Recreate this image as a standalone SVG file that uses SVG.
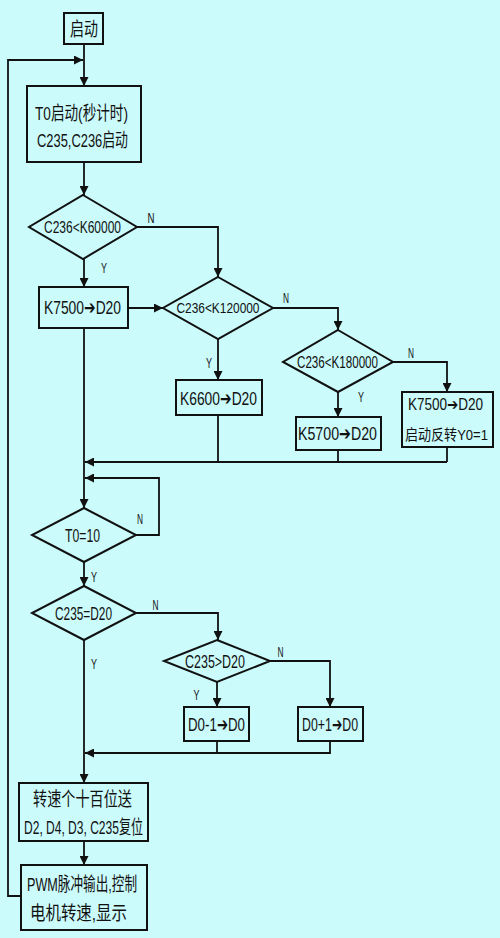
<svg xmlns="http://www.w3.org/2000/svg" width="500" height="938" viewBox="0 0 500 938">
<style>
.bg{fill:#CBFBFB}
.box{fill:#CBFBFB;stroke:#111;stroke-width:2}
.ln{fill:none;stroke:#111;stroke-width:1.8}
.t{font-family:"Liberation Sans","Noto Sans CJK SC",sans-serif;font-size:19px;fill:#111;text-anchor:middle}
.s{font-size:16px}
.x{font-size:14.5px}
.l{font-family:"Liberation Sans",sans-serif;font-size:15px;fill:#111;text-anchor:middle}
</style>
<defs>
<marker id="b" viewBox="0 0 10 10" refX="10" refY="5" markerWidth="10" markerHeight="9" markerUnits="userSpaceOnUse" orient="auto">
<path d="M0,0 L10,5 L0,10 Z" fill="#111"/>
</marker>
</defs>
<rect class="bg" x="0" y="0" width="500" height="938"/>

<g id="connectors">
<path class="ln" d="M84,44 V86" marker-end="url(#b)"/>
<path class="ln" d="M21,896 H8 V60 H83" marker-end="url(#b)"/>
<path class="ln" d="M84,162 V195" marker-end="url(#b)"/>
<path class="ln" d="M137,227 H218 V277" marker-end="url(#b)"/>
<path class="ln" d="M84,259 V287" marker-end="url(#b)"/>
<path class="ln" d="M128,308 H163" marker-end="url(#b)"/>
<path class="ln" d="M273,308 H338 V330" marker-end="url(#b)"/>
<path class="ln" d="M218,339 V380" marker-end="url(#b)"/>
<path class="ln" d="M393,362 H447 V392" marker-end="url(#b)"/>
<path class="ln" d="M338,392 V417" marker-end="url(#b)"/>
<path class="ln" d="M218,415 V462"/>
<path class="ln" d="M338,450 V462"/>
<path class="ln" d="M447,462 V447"/>
<path class="ln" d="M447,462 H85" marker-end="url(#b)"/>
<path class="ln" d="M84,328 V508" marker-end="url(#b)"/>
<path class="ln" d="M136,535 H159 V478 H85" marker-end="url(#b)"/>
<path class="ln" d="M84,562 V586" marker-end="url(#b)"/>
<path class="ln" d="M136,613 H218 V640" marker-end="url(#b)"/>
<path class="ln" d="M217,682 V707" marker-end="url(#b)"/>
<path class="ln" d="M270,661 H330 V707" marker-end="url(#b)"/>
<path class="ln" d="M217,741 V753"/>
<path class="ln" d="M330,741 V753 H85" marker-end="url(#b)"/>
<path class="ln" d="M84,640 V783" marker-end="url(#b)"/>
<path class="ln" d="M84,841 V865" marker-end="url(#b)"/>
</g>

<g id="start">
<rect class="box" x="64" y="13" width="39" height="31"/>
<text class="t" x="84" y="36" textLength="28" lengthAdjust="spacingAndGlyphs">启动</text>
</g>

<g id="init">
<rect class="box" x="27" y="86" width="114" height="76"/>
<text class="t" x="81.5" y="120" textLength="93" lengthAdjust="spacingAndGlyphs">T0启动(秒计时)</text>
<text class="t" x="82.5" y="147" textLength="91" lengthAdjust="spacingAndGlyphs">C235,C236启动</text>
</g>

<g id="d1">
<polygon class="box" points="83,195 137,227 83,259 29,227"/>
<text class="t s" x="82.5" y="233" textLength="77" lengthAdjust="spacingAndGlyphs">C236&lt;K60000</text>
</g>

<g id="b1">
<rect class="box" x="39" y="287" width="89" height="41"/>
<text class="t" x="82.5" y="314" textLength="77" lengthAdjust="spacingAndGlyphs">K7500➔D20</text>
</g>

<g id="d2">
<polygon class="box" points="218,277 273,308 218,339 163,308"/>
<text class="t x" x="218" y="313" textLength="83" lengthAdjust="spacingAndGlyphs">C236&lt;K120000</text>
</g>

<g id="b2">
<rect class="box" x="176" y="380" width="86" height="35"/>
<text class="t" x="218.5" y="405" textLength="77" lengthAdjust="spacingAndGlyphs">K6600➔D20</text>
</g>

<g id="d3">
<polygon class="box" points="338,330 393,362 338,392 283,362"/>
<text class="t s" x="337.5" y="368" textLength="81" lengthAdjust="spacingAndGlyphs">C236&lt;K180000</text>
</g>

<g id="b3">
<rect class="box" x="296" y="417" width="85" height="33"/>
<text class="t" x="337.5" y="440" textLength="79" lengthAdjust="spacingAndGlyphs">K5700➔D20</text>
</g>

<g id="b4">
<rect class="box" x="402" y="392" width="91" height="55"/>
<text class="t s" x="445.5" y="410" textLength="75" lengthAdjust="spacingAndGlyphs">K7500➔D20</text>
<text class="t x" x="446.5" y="440" textLength="83" lengthAdjust="spacingAndGlyphs">启动反转Y0=1</text>
</g>

<g id="d4">
<polygon class="box" points="84,508 136,535 84,562 32,535"/>
<text class="t" x="82.5" y="542" textLength="35" lengthAdjust="spacingAndGlyphs">T0=10</text>
</g>

<g id="d5">
<polygon class="box" points="84,586 136,613 84,640 32,613"/>
<text class="t" x="83.5" y="620" textLength="57" lengthAdjust="spacingAndGlyphs">C235=D20</text>
</g>

<g id="d6">
<polygon class="box" points="217,640 270,661 217,682 164,661"/>
<text class="t" x="215" y="668" textLength="60" lengthAdjust="spacingAndGlyphs">C235&gt;D20</text>
</g>

<g id="b5">
<rect class="box" x="184" y="707" width="65" height="34"/>
<text class="t" x="216.5" y="731" textLength="57" lengthAdjust="spacingAndGlyphs">D0-1➔D0</text>
</g>

<g id="b6">
<rect class="box" x="298" y="707" width="65" height="34"/>
<text class="t" x="330" y="731" textLength="56" lengthAdjust="spacingAndGlyphs">D0+1➔D0</text>
</g>

<g id="b7">
<rect class="box" x="19" y="783" width="129" height="58"/>
<text class="t" x="82.5" y="806" textLength="99" lengthAdjust="spacingAndGlyphs">转速个十百位送</text>
<text class="t" x="83.5" y="834" textLength="119" lengthAdjust="spacingAndGlyphs">D2, D4, D3, C235复位</text>
</g>

<g id="b8">
<rect class="box" x="21" y="865" width="126" height="65"/>
<text class="t" x="82" y="891" textLength="110" lengthAdjust="spacingAndGlyphs">PWM脉冲输出,控制</text>
<text class="t" x="78.5" y="920" textLength="97" lengthAdjust="spacingAndGlyphs">电机转速,显示</text>
</g>

<g id="labels">
<text class="l" x="151" y="223" textLength="7" lengthAdjust="spacingAndGlyphs">N</text>
<text class="l" x="104" y="273" textLength="6" lengthAdjust="spacingAndGlyphs">Y</text>
<text class="l" x="286" y="303" textLength="6" lengthAdjust="spacingAndGlyphs">N</text>
<text class="l" x="209" y="368" textLength="6" lengthAdjust="spacingAndGlyphs">Y</text>
<text class="l" x="411" y="358" textLength="6" lengthAdjust="spacingAndGlyphs">N</text>
<text class="l" x="361" y="402" textLength="6" lengthAdjust="spacingAndGlyphs">Y</text>
<text class="l" x="140" y="524" textLength="6" lengthAdjust="spacingAndGlyphs">N</text>
<text class="l" x="94" y="582" textLength="6" lengthAdjust="spacingAndGlyphs">Y</text>
<text class="l" x="155.5" y="610" textLength="6" lengthAdjust="spacingAndGlyphs">N</text>
<text class="l" x="94" y="669" textLength="6" lengthAdjust="spacingAndGlyphs">Y</text>
<text class="l" x="280.5" y="657" textLength="6" lengthAdjust="spacingAndGlyphs">N</text>
<text class="l" x="196.5" y="700" textLength="6" lengthAdjust="spacingAndGlyphs">Y</text>
</g>
</svg>
